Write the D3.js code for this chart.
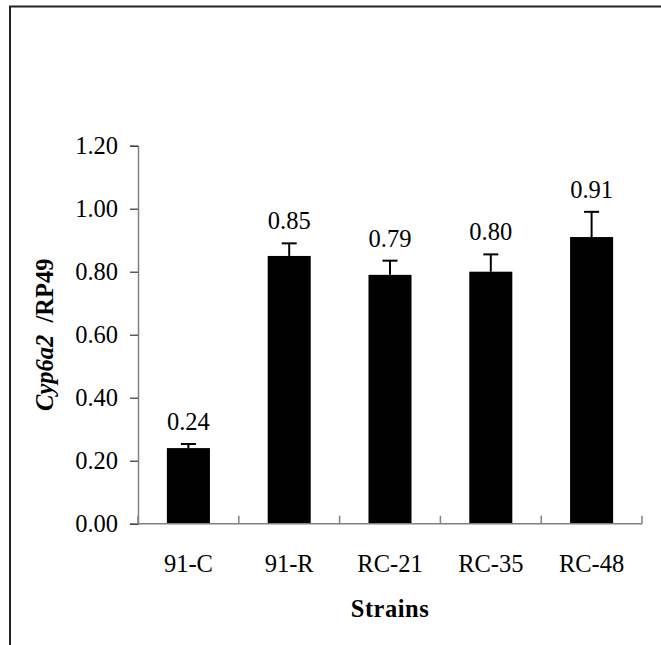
<!DOCTYPE html>
<html>
<head>
<meta charset="utf-8">
<script src="https://cdn.jsdelivr.net/npm/d3@7"></script>
<style>
  body { margin: 0; background: #fff; }
  text { font-family: "Liberation Serif", "Times New Roman", serif; }
</style>
</head>
<body>
<script>
var strains = ['91-C', '91-R', 'RC-21', 'RC-35', 'RC-48'];
var expression = [0.24, 0.85, 0.79, 0.80, 0.91];
var errors = [0.013, 0.04, 0.045, 0.055, 0.08];
var yTicks = [0, 0.2, 0.4, 0.6, 0.8, 1.0, 1.2];

var width = 661, height = 645;
var plotLeft = 138, plotRight = 642, plotTop = 145.7, plotBottom = 523.7;
var fontSize = '24.5px';

var svg = d3.select('body').append('svg').attr('width', width).attr('height', height);

// outer frame (right and bottom edges are cropped off)
svg.append('path')
  .attr('d', 'M10,645 V6.5 H661')
  .attr('fill', 'none')
  .attr('stroke', '#222')
  .attr('stroke-width', 2);

var x = d3.scaleBand().domain(strains).range([plotLeft, plotRight])
  .paddingInner(0.573).paddingOuter(0.2865);
var y = d3.scaleLinear().domain([0, 1.2]).range([plotBottom, plotTop]);

// y axis
var yAxis = svg.append('g')
  .attr('transform', 'translate(' + plotLeft + ',0)')
  .call(d3.axisLeft(y).tickValues(yTicks).tickFormat(d3.format('.2f')).tickSize(8).tickPadding(12));
yAxis.select('.domain').attr('stroke', '#808080').attr('stroke-width', 1.5);
yAxis.selectAll('.tick line').attr('stroke', '#333').attr('stroke-width', 1.2);
yAxis.selectAll('.tick text')
  .attr('fill', '#000')
  .style('font-family', '"Liberation Serif", serif')
  .style('font-size', fontSize);

// bars
svg.selectAll('rect.bar').data(strains).enter().append('rect')
  .attr('class', 'bar')
  .attr('x', function (d) { return x(d); })
  .attr('width', x.bandwidth())
  .attr('y', function (d, i) { return y(expression[i]); })
  .attr('height', function (d, i) { return y(0) - y(expression[i]); })
  .attr('fill', '#000');

// error bars
var eb = svg.selectAll('g.err').data(strains).enter().append('g').attr('class', 'err');
eb.append('line')
  .attr('x1', function (d) { return x(d) + x.bandwidth() / 2; })
  .attr('x2', function (d) { return x(d) + x.bandwidth() / 2; })
  .attr('y1', function (d, i) { return y(expression[i]); })
  .attr('y2', function (d, i) { return y(expression[i] + errors[i]); })
  .attr('stroke', '#000').attr('stroke-width', 2);
eb.append('line')
  .attr('x1', function (d) { return x(d) + x.bandwidth() / 2 - 7.5; })
  .attr('x2', function (d) { return x(d) + x.bandwidth() / 2 + 7.5; })
  .attr('y1', function (d, i) { return y(expression[i] + errors[i]); })
  .attr('y2', function (d, i) { return y(expression[i] + errors[i]); })
  .attr('stroke', '#000').attr('stroke-width', 2);

// value labels
svg.selectAll('text.val').data(strains).enter().append('text')
  .attr('class', 'val')
  .attr('x', function (d) { return x(d) + x.bandwidth() / 2; })
  .attr('y', function (d, i) { return y(expression[i] + errors[i]) - 14; })
  .attr('text-anchor', 'middle')
  .style('font-size', fontSize)
  .text(function (d, i) { return expression[i].toFixed(2); });

// x axis with category separator ticks pointing up
svg.append('line')
  .attr('x1', plotLeft).attr('x2', plotRight).attr('y1', plotBottom).attr('y2', plotBottom)
  .attr('stroke', '#808080').attr('stroke-width', 1.5);
svg.selectAll('line.sep').data(d3.range(strains.length + 1)).enter().append('line')
  .attr('class', 'sep')
  .attr('x1', function (i) { return plotLeft + i * x.step(); })
  .attr('x2', function (i) { return plotLeft + i * x.step(); })
  .attr('y1', plotBottom).attr('y2', plotBottom - 8)
  .attr('stroke', '#808080').attr('stroke-width', 1.5);
svg.selectAll('text.cat').data(strains).enter().append('text')
  .attr('class', 'cat')
  .attr('x', function (d) { return x(d) + x.bandwidth() / 2; })
  .attr('y', 572)
  .attr('text-anchor', 'middle')
  .style('font-size', fontSize)
  .text(function (d) { return d; });

// axis titles
svg.append('text')
  .attr('x', (plotLeft + plotRight) / 2).attr('y', 617)
  .attr('text-anchor', 'middle')
  .style('font-size', fontSize).style('font-weight', 'bold')
  .style('letter-spacing', '0.5px')
  .text('Strains');

var yt = svg.append('text')
  .attr('transform', 'translate(53,' + ((plotTop + plotBottom) / 2) + ') rotate(-90)')
  .attr('text-anchor', 'middle')
  .style('font-size', fontSize).style('font-weight', 'bold');
yt.append('tspan').style('font-style', 'italic').text('Cyp6a2');
yt.append('tspan').attr('xml:space', 'preserve').text('  /RP49');
</script>
</body>
</html>
